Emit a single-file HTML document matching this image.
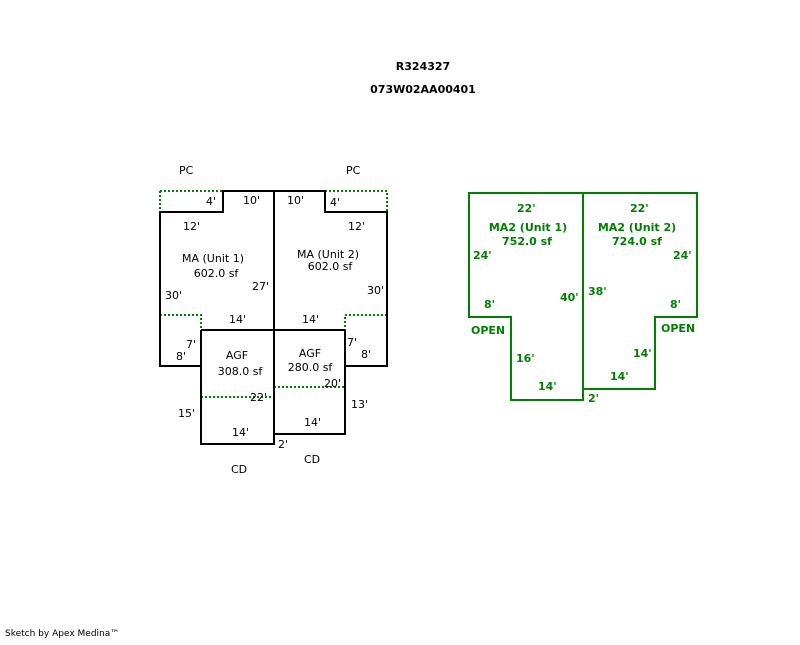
<!DOCTYPE html>
<html><head><style>
body{margin:0;background:#fff;width:800px;height:640px;overflow:hidden}
svg text{font-family:"DejaVu Sans","Liberation Sans",sans-serif;font-size:11px}
.g text{fill:#008000;font-weight:bold;font-size:11px}
</style></head><body>
<svg width="800" height="640" xmlns="http://www.w3.org/2000/svg">
<g text-anchor="middle" font-weight="bold">
<text x="423" y="70" style="font-weight:bold">R324327</text>
<text x="423" y="93" style="font-weight:bold">073W02AA00401</text>
</g>
<g stroke="#008000" stroke-width="2" stroke-dasharray="2,2" fill="none">
<path d="M160 191H223M325 191H387V212M160 191V212"/>
<path d="M160 315H201V330M387 315H345V330"/>
<path d="M201 397H274M274 387H345"/>
<path d="M160 212V315M387 212V315M274 191V330M201 330V397M345 330V387"/>
</g>
<g stroke="#000" stroke-width="2" fill="none">
<path d="M160 366V212H223V191H325V212H387V366H345V434H274V444H201V366Z"/>
<path d="M201 330H345M274 191V444"/>
<path d="M160 212V366M201 330V444M345 330V434"/>
</g>
<g>
<text x="179" y="174">PC</text><text x="346" y="174">PC</text>
<text x="206" y="205">4'</text><text x="243" y="204">10'</text>
<text x="287" y="204">10'</text><text x="330" y="206">4'</text>
<text x="183" y="230">12'</text><text x="348" y="230">12'</text>
<text x="213" y="262" text-anchor="middle">MA (Unit 1)</text>
<text x="216" y="277" text-anchor="middle">602.0 sf</text>
<text x="328" y="258" text-anchor="middle">MA (Unit 2)</text>
<text x="330" y="270" text-anchor="middle">602.0 sf</text>
<text x="252" y="290">27'</text><text x="165" y="299">30'</text><text x="367" y="294">30'</text>
<text x="229" y="323">14'</text><text x="302" y="323">14'</text>
<text x="186" y="348">7'</text><text x="176" y="360">8'</text>
<text x="347" y="346">7'</text><text x="361" y="358">8'</text>
<text x="237" y="359" text-anchor="middle">AGF</text>
<text x="240" y="375" text-anchor="middle">308.0 sf</text>
<text x="310" y="357" text-anchor="middle">AGF</text>
<text x="310" y="371" text-anchor="middle">280.0 sf</text>
<text x="324" y="387">20'</text><text x="250" y="401">22'</text>
<text x="351" y="408">13'</text><text x="178" y="417">15'</text>
<text x="304" y="426">14'</text><text x="232" y="436">14'</text>
<text x="278" y="448">2'</text>
<text x="304" y="463">CD</text><text x="231" y="473">CD</text>
</g>
<g stroke="#008000" stroke-width="2" fill="none">
<path d="M469 193H697V317H655V389H583V400H511V317H469Z"/>
<path d="M583 193V400"/>
</g>
<g class="g">
<text x="517" y="212">22'</text><text x="630" y="212">22'</text>
<text x="528" y="231" text-anchor="middle">MA2 (Unit 1)</text>
<text x="527" y="245" text-anchor="middle">752.0 sf</text>
<text x="637" y="231" text-anchor="middle">MA2 (Unit 2)</text>
<text x="637" y="245" text-anchor="middle">724.0 sf</text>
<text x="473" y="259">24'</text><text x="673" y="259">24'</text>
<text x="588" y="295">38'</text><text x="560" y="301">40'</text>
<text x="484" y="308">8'</text><text x="670" y="308">8'</text>
<text x="471" y="334">OPEN</text><text x="661" y="332">OPEN</text>
<text x="633" y="357">14'</text><text x="516" y="362">16'</text>
<text x="610" y="380">14'</text><text x="538" y="390">14'</text>
<text x="588" y="402">2'</text>
</g>
<text x="5" y="636" style="font-size:9px">Sketch by Apex Medina™</text>
</svg>
</body></html>
